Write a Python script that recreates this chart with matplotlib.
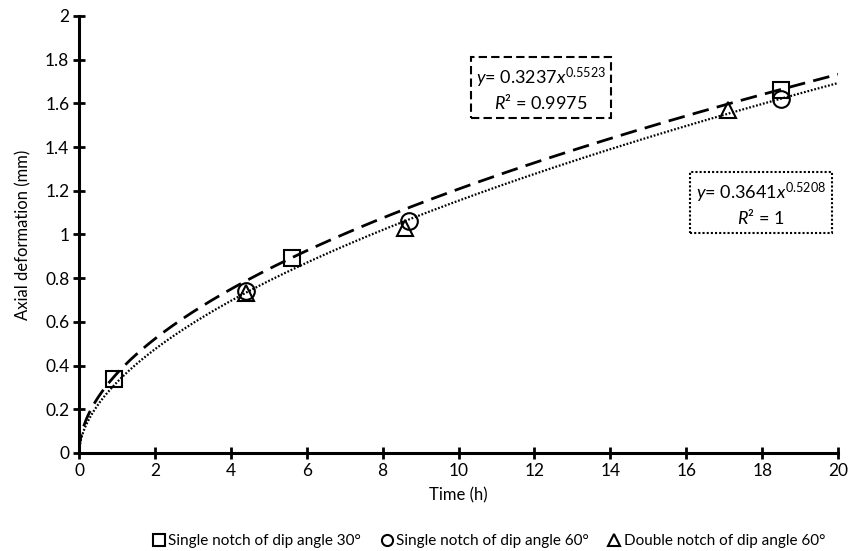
import numpy as np
import matplotlib
matplotlib.use("Agg")
import matplotlib.pyplot as plt
from matplotlib.lines import Line2D

plt.rcParams['font.family'] = ['Lato', 'DejaVu Sans']
plt.rcParams['mathtext.fontset'] = 'custom'
plt.rcParams['mathtext.it'] = 'Lato:italic'
plt.rcParams['mathtext.rm'] = 'Lato'

# Data
sq_x = [0.93, 5.6, 18.5]
sq_y = [0.34, 0.89, 1.66]
ci_x = [4.4, 8.7, 18.5]
ci_y = [0.74, 1.06, 1.62]
tr_x = [4.4, 8.6, 17.1]
tr_y = [0.73, 1.03, 1.57]

# Trend line parameters (as drawn)
dash_a, dash_b = 0.3641, 0.5208
dot_a, dot_b = 0.3237, 0.5523

labels = ["Single notch of dip angle 30°", "Single notch of dip angle 60°", "Double notch of dip angle 60°"]

fig = plt.figure(figsize=(8.5, 5.51), dpi=100)
ax = fig.add_axes([0.093, 0.178, 0.893, 0.793])

xx = np.linspace(0.001, 20, 800)
ax.plot(xx, dash_a * xx**dash_b, color='black', lw=2.0, linestyle=(0, (6, 3)), zorder=2)
ax.plot(xx, dot_a * xx**dot_b, color='black', lw=1.6, linestyle=(0, (0.8, 0.8)), zorder=2)

mk = dict(linestyle='none', markerfacecolor='none', markeredgecolor='black', markeredgewidth=1.5, zorder=3)
ax.plot(sq_x, sq_y, marker='s', markersize=12, **mk)
ax.plot(ci_x, ci_y, marker='o', markersize=12, **mk)
ax.plot(tr_x, tr_y, marker='^', markersize=12, **mk)

ax.set_xlim(0, 20)
ax.set_ylim(0, 2)
ax.set_xticks(np.arange(0, 21, 2))
ax.set_yticks(np.arange(0, 2.01, 0.2))
ax.set_yticklabels(['0', '0.2', '0.4', '0.6', '0.8', '1', '1.2', '1.4', '1.6', '1.8', '2'])
for s in ['top', 'right']:
    ax.spines[s].set_visible(False)
for s in ['left', 'bottom']:
    ax.spines[s].set_linewidth(2.2)
ax.tick_params(direction='inout', length=8, width=2, labelsize=12.5, pad=3)
ax.set_xlabel('Time (h)', fontsize=12, labelpad=6)
ax.set_ylabel('Axial deformation (mm)', fontsize=12, labelpad=10)

H = 551
ax.text(541, H - 89, "$y$= 0.3237$x^{0.5523}$\n$R$² = 0.9975", transform=None, fontsize=13,
        ha='center', va='center', multialignment='center',
        bbox=dict(boxstyle='square,pad=0.3', fc='white', ec='black', lw=1.5, linestyle=(0, (4, 2))))
ax.text(761, H - 204, "$y$= 0.3641$x^{0.5208}$\n$R$² = 1", transform=None, fontsize=13,
        ha='center', va='center', multialignment='center',
        bbox=dict(boxstyle='square,pad=0.3', fc='white', ec='black', lw=1.5, linestyle=(0, (1, 1))))

handles = [Line2D([], [], marker=m, markersize=8, **mk) for m in ['s', 'o', '^']]
fig.legend(handles, labels, loc='center', bbox_to_anchor=(488 / 850, 1 - 541 / 551), ncol=3, frameon=False,
           fontsize=11, handletextpad=0.1, columnspacing=1.2, handlelength=1.0)

fig.savefig('out.png', dpi=100)
